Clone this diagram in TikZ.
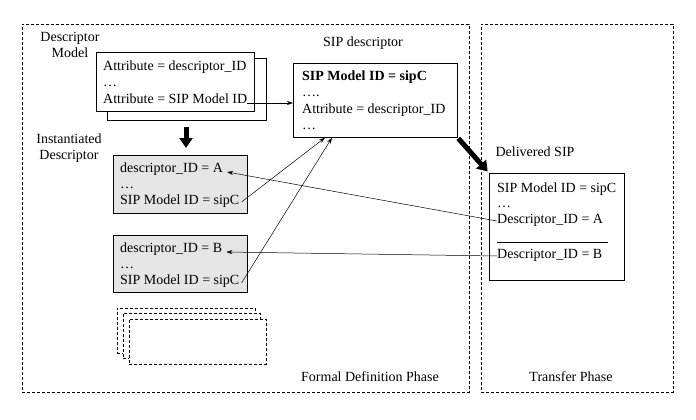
\documentclass[tikz,border=0pt]{standalone}
\usepackage{fontspec}
\setmainfont{Liberation Serif}
\usetikzlibrary{arrows.meta}
\begin{document}
\begin{tikzpicture}[x=1pt,y=-1pt,
  frame/.style={draw, dash pattern=on 3pt off 2pt, line width=0.6pt, anchor=north west, inner sep=0},
  box/.style={draw, line width=0.7pt, fill=white, anchor=north west, inner sep=0},
  gbox/.style={box, fill=black!10},
  dbox/.style={box, dash pattern=on 3pt off 2pt},
  txt/.style={anchor=west, inner sep=0, text height=9pt, text depth=2.5pt, font=\fontsize{14}{16}\selectfont},
  lbl/.style={inner sep=0, font=\fontsize{14}{16}\selectfont, align=center},
  conn/.style={-{Stealth[length=6pt,width=4pt]}, line width=0.5pt},
  fat/.style={-{Triangle[length=10pt,width=13pt]}, line width=5pt}
]
\useasboundingbox (0,0) rectangle (696,420);
% phase frames
\node (fdp) [frame, minimum width=447pt, minimum height=368pt] at (22,24) {};
\node (tp)  [frame, minimum width=192pt, minimum height=368pt] at (481,24) {};
\node (fdpl) [lbl] at (370,377) {Formal Definition Phase};
\node (tpl)  [lbl] at (571,377) {Transfer Phase};

% descriptor model
\node (dml) [lbl] at (70,45) {Descriptor\\ Model};
\node (dmback) [box, minimum width=159pt, minimum height=62pt] at (107,58) {};
\node (dm) [box, minimum width=158pt, minimum height=59pt] at (96,52) {};
\node (dm1) [txt] at (103,67) {Attribute = descriptor\_ID};
\node (dm2) [txt] at (103,83) {…};
\node (dm3) [txt] at (103,100) {Attribute = SIP Model ID};

% SIP descriptor
\node (sipl) [lbl] at (363,43) {SIP descriptor};
\node (sip) [box, minimum width=164pt, minimum height=74pt] at (293,63) {};
\node (sip1) [txt, font=\fontsize{14}{16}\selectfont\bfseries] at (302,77) {SIP Model ID = sipC};
\node (sip2) [txt] at (302,93) {….};
\node (sip3) [txt] at (302,110) {Attribute = descriptor\_ID};
\node (sip4) [txt] at (302,126) {…};

% instantiated descriptors
\node (idl) [lbl] at (69,148) {Instantiated\\ Descriptor};
\node (ga) [gbox, minimum width=134pt, minimum height=58pt] at (113,155) {};
\node (ga1) [txt] at (120,169) {descriptor\_ID = A};
\node (ga2) [txt] at (120,185) {…};
\node (ga3) [txt] at (120,201) {SIP Model ID = sipC};
\node (gb) [gbox, minimum width=134pt, minimum height=57pt] at (113,235) {};
\node (gb1) [txt] at (120,249) {descriptor\_ID = B};
\node (gb2) [txt] at (120,265) {…};
\node (gb3) [txt] at (120,281) {SIP Model ID = sipC};

% dashed stack
\node (s1) [dbox, minimum width=138pt, minimum height=45pt] at (117,308) {};
\node (s2) [dbox, minimum width=137pt, minimum height=45pt] at (123,313) {};
\node (s3) [dbox, minimum width=137pt, minimum height=45pt] at (129,319) {};

% delivered SIP
\node (dell) [lbl] at (535,152) {Delivered SIP};
\node (del) [box, minimum width=135pt, minimum height=107pt] at (489,173) {};
\node (del1) [txt] at (497,189) {SIP Model ID = sipC};
\node (del2) [txt] at (497,204) {…};
\node (del3) [txt] at (497,220) {Descriptor\_ID = A};
\node (del4) [txt] at (497,255) {Descriptor\_ID = B};
\coordinate (sepl) at (497,242);
\coordinate (sepr) at (608,242);
\draw[line width=0.6pt] (sepl) -- (sepr);

% connectors
\coordinate (dmout) at ([yshift=-3pt]dm3.east);
\draw[conn] (dmout) -- (sip.west |- dmout);
\draw[conn] ([yshift=-1pt]del3.west) -- ([xshift=4pt,yshift=-3pt]ga1.east);
\draw[conn] ([yshift=-1pt]del4.west) -- ([xshift=4pt,yshift=-3pt]gb1.east);
\draw[conn] ([xshift=2pt,yshift=-1pt]ga3.east) -- ([xshift=32pt]sip.south west);
\draw[conn] ([xshift=2pt,yshift=-2pt]gb3.east) -- ([xshift=39pt]sip.south west);

\coordinate (dmbot) at (186,120);
\draw[fat, shorten <=7pt, shorten >=7pt] (dmbot) -- (dmbot |- ga.north);
\draw[fat, shorten <=1pt, shorten >=2pt] (sip.south east) -- (del.north west);
\end{tikzpicture}
\end{document}
